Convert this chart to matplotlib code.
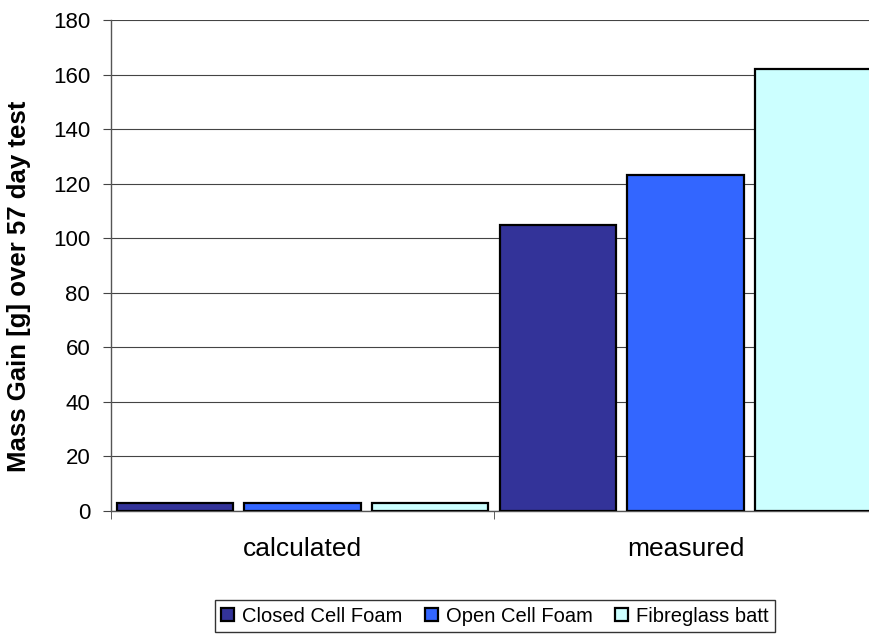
import numpy as np
import matplotlib
matplotlib.use("Agg")
import matplotlib.pyplot as plt
from matplotlib.ticker import FixedLocator

plt.rcParams['font.family'] = ['Liberation Sans', 'DejaVu Sans']

categories = ["calculated", "measured"]
series = ["Closed Cell Foam", "Open Cell Foam", "Fibreglass batt"]
closed_cell = [3, 105]
open_cell = [3, 123]
fibreglass = [3, 162]
colors = ["#333399", "#3366FF", "#CCFFFF"]
y_ticks = [0, 20, 40, 60, 80, 100, 120, 140, 160, 180]

fig = plt.figure(figsize=(8.7, 6.35), dpi=100)
ax = fig.add_axes([111 / 870, 1 - 511 / 635, 766 / 870, 491 / 635])

x = np.arange(len(categories))
width = 0.303
step = 0.334
for i, (vals, name, c) in enumerate(zip([closed_cell, open_cell, fibreglass], series, colors)):
    ax.bar(x + (i - 1) * step, vals, width=width, color=c, edgecolor="black",
           linewidth=1.6, label=name, zorder=3)

ax.set_xlim(-0.5, 1.5)
ax.set_ylim(0, 180)
ax.set_yticks(y_ticks)
ax.yaxis.grid(True, color="#444444", linewidth=0.8, zorder=0)
ax.set_xticks(x)
ax.set_xticklabels(categories, fontsize=19)
ax.tick_params(axis="x", length=0, pad=19)
ax.xaxis.set_minor_locator(FixedLocator([-0.5, 0.5, 1.5]))
ax.tick_params(axis="x", which="minor", length=6, direction="out", color="#444444")
ax.tick_params(axis="y", length=6, direction="out", labelsize=16, pad=9, color="#444444")

for s in ["top", "right"]:
    ax.spines[s].set_visible(False)
for s in ["left", "bottom"]:
    ax.spines[s].set_color("#555555")
    ax.spines[s].set_linewidth(1.0)

ax.set_ylabel("Mass Gain [g] over 57 day test", fontsize=18.5, fontweight="bold")
ax.yaxis.set_label_coords(-(111 - 31) / 766, (511 - 286) / 491)

leg = fig.legend(loc="center", bbox_to_anchor=(495 / 870, 1 - 616 / 635), ncol=3,
                 fontsize=14.5, frameon=True, fancybox=False, edgecolor="black",
                 handlelength=0.65, handleheight=0.65, handletextpad=0.4,
                 columnspacing=1.1, borderpad=0.3)
leg.get_frame().set_linewidth(1.0)

fig.savefig("out.png", dpi=100)
